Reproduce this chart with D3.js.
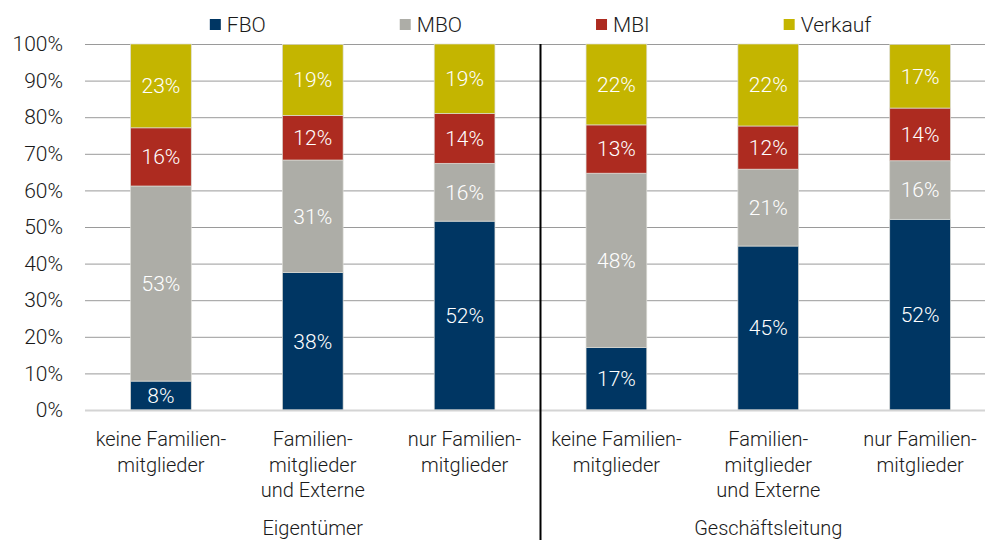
<!DOCTYPE html>
<html>
<head>
<meta charset="utf-8">
<script src="https://cdn.jsdelivr.net/npm/d3@7"></script>
<style>
  body { margin: 0; background: #fff; }
  svg { display: block; font-family: Roboto, "Liberation Sans", sans-serif; font-weight: 300; }
</style>
</head>
<body>
<svg id="chart" width="985" height="540"></svg>
<script>
const WIDTH = 985;
const HEIGHT = 540;

// categories (two lines each, some three) and their groups
const categories = [
  ['keine Familien-', 'mitglieder'],
  ['Familien-', 'mitglieder', 'und Externe'],
  ['nur Familien-', 'mitglieder'],
  ['keine Familien-', 'mitglieder'],
  ['Familien-', 'mitglieder', 'und Externe'],
  ['nur Familien-', 'mitglieder']
];
const groups = ['Eigentümer', 'Geschäftsleitung'];
const seriesNames = ['FBO', 'MBO', 'MBI', 'Verkauf'];
const colors = ['#003663', '#adada7', '#ad2b20', '#c4b500'];

// shares in percent, one entry per category
const fbo = [7.9, 37.6, 51.6, 17.1, 44.8, 52.1];
const mbo = [53.3, 30.7, 15.8, 47.6, 21.0, 16.0];
const mbi = [15.9, 12.2, 13.6, 13.2, 11.8, 14.4];
const verkauf = [22.9, 19.4, 19.0, 22.1, 22.4, 17.4];
const yTicks = [0, 10, 20, 30, 40, 50, 60, 70, 80, 90, 100];

const margin = {left: 85, right: -11, top: 44, bottom: 130};
const svg = d3.select('#chart');

const rows = categories.map((c, i) => ({
  idx: i, FBO: fbo[i], MBO: mbo[i], MBI: mbi[i], Verkauf: verkauf[i]
}));
const stacked = d3.stack().keys(seriesNames)(rows);

const x = d3.scaleBand()
  .domain(d3.range(categories.length))
  .range([margin.left, WIDTH - margin.right])
  .paddingInner(0.6)
  .paddingOuter(0.3);
const y = d3.scaleLinear().domain([0, 100]).range([HEIGHT - margin.bottom, margin.top]);
const step = x.step();
const x0 = margin.left;

// gridlines
svg.append('g')
  .selectAll('line')
  .data(yTicks.filter(t => t > 0))
  .enter()
  .append('line')
  .attr('x1', x0)
  .attr('x2', WIDTH)
  .attr('y1', d => y(d) + 0.5)
  .attr('y2', d => y(d) + 0.5)
  .style('stroke', '#9a9a9a')
  .style('stroke-width', 1);

// y axis labels
const yAxis = svg.append('g')
  .attr('transform', 'translate(' + (x0 - 22) + ',0)')
  .call(d3.axisLeft(y).tickValues(yTicks).tickSize(0).tickPadding(0).tickFormat(d => d + '%'));
yAxis.select('.domain').remove();
yAxis.selectAll('text')
  .style('font-family', 'Roboto, "Liberation Sans", sans-serif')
  .style('font-size', '21px')
  .style('font-weight', 300)
  .style('fill', '#1a1a1a');

// bars
const layers = svg.append('g')
  .selectAll('g')
  .data(stacked)
  .enter()
  .append('g')
  .style('fill', (d, i) => colors[i]);

layers.selectAll('rect')
  .data(d => d)
  .enter()
  .append('rect')
  .attr('x', d => x(d.data.idx))
  .attr('y', d => y(d[1]))
  .attr('width', x.bandwidth())
  .attr('height', d => y(d[0]) - y(d[1]))
  .style('stroke', '#dcdcd6')
  .style('stroke-width', 0.7);

// value labels
layers.selectAll('text')
  .data(d => d)
  .enter()
  .append('text')
  .attr('x', d => x(d.data.idx) + x.bandwidth() / 2)
  .attr('y', d => (y(d[0]) + y(d[1])) / 2)
  .attr('dy', '0.35em')
  .attr('text-anchor', 'middle')
  .style('fill', '#fff')
  .style('font-size', '21px')
  .text(d => Math.round(d[1] - d[0]) + '%');

// baseline
svg.append('line')
  .attr('x1', x0)
  .attr('x2', WIDTH)
  .attr('y1', y(0) + 0.5)
  .attr('y2', y(0) + 0.5)
  .style('stroke', '#d4d4d4')
  .style('stroke-width', 2);

// separator between the groups
svg.append('line')
  .attr('x1', x0 + step * 3)
  .attr('x2', x0 + step * 3)
  .attr('y1', margin.top)
  .attr('y2', HEIGHT)
  .style('stroke', '#000')
  .style('stroke-width', 2);

// category labels
const catLabels = svg.append('g')
  .selectAll('text')
  .data(categories)
  .enter()
  .append('text')
  .attr('text-anchor', 'middle')
  .style('font-size', '20px')
  .style('fill', '#1a1a1a');
catLabels.selectAll('tspan')
  .data((d, i) => d.map(line => ({line, i})))
  .enter()
  .append('tspan')
  .attr('x', d => x(d.i) + x.bandwidth() / 2)
  .attr('y', (d, j) => y(0) + 29 + j * 25.5)
  .attr('dy', '0.35em')
  .text(d => d.line);

// group labels
svg.append('g')
  .selectAll('text')
  .data(groups)
  .enter()
  .append('text')
  .attr('x', (d, i) => x0 + step * (3 * i + 1.5))
  .attr('y', y(0) + 118)
  .attr('dy', '0.35em')
  .attr('text-anchor', 'middle')
  .style('font-size', '20px')
  .style('fill', '#1a1a1a')
  .text(d => d);

// legend, centred over the plot
const legend = svg.append('g');
const items = legend.selectAll('g')
  .data(seriesNames)
  .enter()
  .append('g');
items.append('rect')
  .attr('width', 11)
  .attr('height', 11)
  .attr('y', -5.5)
  .style('fill', (d, i) => colors[i]);
items.append('text')
  .attr('x', 17)
  .attr('dy', '0.35em')
  .style('font-size', '21px')
  .style('fill', '#1a1a1a')
  .text(d => d);

const gap = 134;
let cursor = 0;
const offsets = [];
items.each(function() {
  offsets.push(cursor);
  cursor += 17 + d3.select(this).select('text').node().getComputedTextLength() + gap;
});
const legendWidth = cursor - gap;
const legendLeft = (x0 + x0 + step * 6) / 2 - legendWidth / 2;
items.attr('transform', (d, i) => 'translate(' + (legendLeft + offsets[i]) + ',24.5)');
</script>
</body>
</html>
